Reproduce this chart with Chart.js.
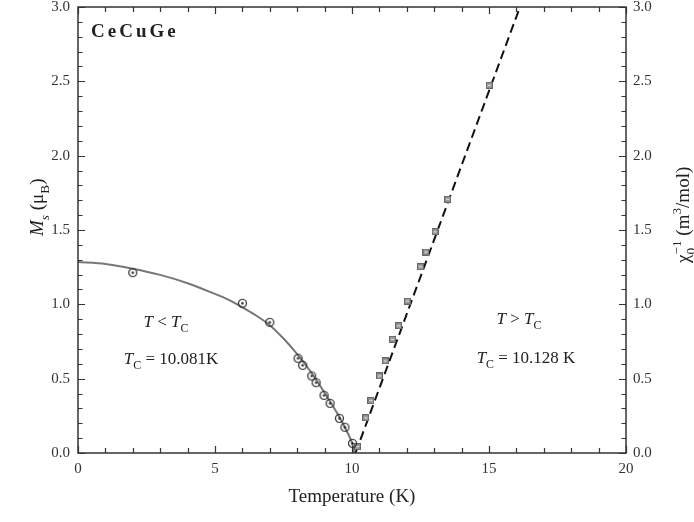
<!DOCTYPE html>
<html>
<head>
<meta charset="utf-8">
<script src="https://cdn.jsdelivr.net/npm/chart.js@4.4.0/dist/chart.umd.min.js"></script>
<style>
  html, body { margin: 0; padding: 0; background: #fff; }
  #wrap { width: 694px; height: 522px; }
</style>
</head>
<body>
<div id="wrap"><canvas id="grafico"></canvas></div>
<script>
// Datos
const msT   = [2.0, 6.0, 7.0, 8.03, 8.2, 8.53, 8.69, 8.98, 9.2, 9.54, 9.74, 10.02];
const msVal = [1.213, 1.007, 0.879, 0.637, 0.59, 0.518, 0.473, 0.388, 0.334, 0.233, 0.173, 0.065];

const chiT   = [10.2, 10.5, 10.69, 11.0, 11.22, 11.48, 11.7, 12.02, 12.5, 12.7, 13.03, 13.49, 15.01];
const chiVal = [0.043, 0.237, 0.352, 0.518, 0.619, 0.765, 0.856, 1.022, 1.253, 1.352, 1.488, 1.706, 2.473];

// curva de ajuste (T < Tc)
const fitT  = [0, 1, 2, 3, 4, 5, 5.5, 6, 6.5, 7, 7.5, 8, 8.5, 9, 9.5, 9.8, 10.0, 10.081];
const fitMs = [1.284, 1.272, 1.24, 1.198, 1.142, 1.07, 1.03, 0.98, 0.925, 0.86, 0.77, 0.665, 0.545, 0.405, 0.255, 0.15, 0.07, 0];

// recta Curie-Weiss (T > Tc)
const cwT   = [10.128, 16.13];
const cwVal = [0, 3.0];

const xTicks = [0, 5, 10, 15, 20];
const yTicks = [0, 0.5, 1.0, 1.5, 2.0, 2.5, 3.0];

const SERIF = '"Liberation Serif", "DejaVu Serif", serif';

// marcador circulo con punto
function marcadorCirculo() {
  const c = document.createElement('canvas');
  c.width = 11; c.height = 11;
  const g = c.getContext('2d');
  g.strokeStyle = '#2a2a2a';
  g.lineWidth = 1.2;
  g.beginPath(); g.arc(5.5, 5.5, 4, 0, Math.PI * 2); g.stroke();
  g.fillStyle = '#222';
  g.beginPath(); g.arc(5.5, 5.5, 1.2, 0, Math.PI * 2); g.fill();
  return c;
}
function marcadorCuadro() {
  const c = document.createElement('canvas');
  c.width = 7; c.height = 7;
  const g = c.getContext('2d');
  g.fillStyle = '#666';
  g.fillRect(0, 0, 7, 7);
  g.fillStyle = '#999';
  g.fillRect(1, 1, 5, 5);
  g.fillStyle = '#ddd';
  g.fillRect(2, 3, 3, 1);
  return c;
}

// texto con subindices / superindices
function textoRico(ctx, partes, size) {
  let x = 0;
  for (const p of partes) {
    if (p.stack) {
      let w = 0;
      for (const q of p.stack) {
        const s = size * 0.7;
        ctx.font = (q.italic ? 'italic ' : '') + s + 'px ' + SERIF;
        const dy = q.sub ? size * 0.32 : -size * 0.42;
        ctx.fillText(q.t, x, dy);
        w = Math.max(w, ctx.measureText(q.t).width);
      }
      x += w;
      continue;
    }
    const s = (p.sub || p.sup) ? size * 0.7 : size;
    ctx.font = (p.bold ? 'bold ' : '') + (p.italic ? 'italic ' : '') + s + 'px ' + SERIF;
    const dy = p.sub ? size * 0.32 : (p.sup ? -size * 0.42 : 0);
    ctx.fillText(p.t, x, dy);
    x += ctx.measureText(p.t).width;
  }
  return x;
}

const decoraciones = {
  id: 'decoraciones',
  afterDraw(chart) {
    const ctx = chart.ctx;
    const a = chart.chartArea;
    const sx = chart.scales.x, sy = chart.scales.y;
    ctx.save();

    // marco
    ctx.strokeStyle = '#333';
    ctx.lineWidth = 1.5;
    ctx.strokeRect(a.left, a.top, a.right - a.left, a.bottom - a.top);

    // marcas hacia dentro
    ctx.lineWidth = 1.2;
    ctx.beginPath();
    for (let v = 0; v <= 20; v++) {
      const px = Math.round(sx.getPixelForValue(v)) + 0.5;
      const len = v % 5 === 0 ? 7 : 5;
      ctx.moveTo(px, a.bottom); ctx.lineTo(px, a.bottom - len);
      ctx.moveTo(px, a.top); ctx.lineTo(px, a.top + len);
    }
    for (let i = 0; i <= 30; i++) {
      const py = Math.round(sy.getPixelForValue(i / 10)) + 0.5;
      const len = i % 5 === 0 ? 7 : 4.5;
      ctx.moveTo(a.left, py); ctx.lineTo(a.left + len, py);
      ctx.moveTo(a.right, py); ctx.lineTo(a.right - len, py);
    }
    ctx.stroke();

    ctx.fillStyle = '#222';
    ctx.textBaseline = 'alphabetic';
    ctx.textAlign = 'left';

    // CeCuGe
    ctx.font = 'bold 19px ' + SERIF;
    let cx = a.left + 13;
    for (const ch of 'CeCuGe') {
      ctx.fillText(ch, cx, 37);
      cx += ctx.measureText(ch).width + 3;
    }

    // anotaciones
    const dibuja = (partes, xMid, base, size) => {
      ctx.save();
      ctx.globalAlpha = 0;
      const w = textoRico(ctx, partes, size);
      ctx.globalAlpha = 1;
      ctx.translate(xMid - w / 2, base);
      textoRico(ctx, partes, size);
      ctx.restore();
    };
    dibuja([{t: 'T', italic: true}, {t: ' < '}, {t: 'T', italic: true}, {t: 'C', sub: true}], 166, 327, 17);
    dibuja([{t: 'T', italic: true}, {t: 'C', sub: true}, {t: ' = 10.081K'}], 171, 364, 17);
    dibuja([{t: 'T', italic: true}, {t: ' > '}, {t: 'T', italic: true}, {t: 'C', sub: true}], 519, 324, 17);
    dibuja([{t: 'T', italic: true}, {t: 'C', sub: true}, {t: ' = 10.128 K'}], 526, 363, 17);

    // titulo eje x
    dibuja([{t: 'Temperature (K)'}], (a.left + a.right) / 2, 502, 19);

    // titulo eje izquierdo
    ctx.save();
    ctx.translate(43, 236);
    ctx.rotate(-Math.PI / 2);
    textoRico(ctx, [{t: 'M', italic: true}, {t: 's', italic: true, sub: true}, {t: ' ('}, {t: 'μ'}, {t: 'B', sub: true}, {t: ')'}], 19);
    ctx.restore();

    // titulo eje derecho
    ctx.save();
    ctx.translate(689, 263);
    ctx.rotate(-Math.PI / 2);
    textoRico(ctx, [{t: 'χ'}, {stack: [{t: '0', sub: true}, {t: '−1', sup: true}]}, {t: ' (m'}, {t: '3', sup: true}, {t: '/mol)'}], 19);
    ctx.restore();

    ctx.restore();
  }
};

const aPuntos = (xs, ys) => xs.map((x, i) => ({x: x, y: ys[i]}));

const sinRelleno = s => { s.paddingTop = 0; s.paddingBottom = 0; s.paddingLeft = 0; s.paddingRight = 0; };

new Chart(document.getElementById('grafico'), {
  type: 'scatter',
  data: {
    datasets: [
      {
        label: 'Ms',
        data: aPuntos(msT, msVal),
        pointStyle: marcadorCirculo(),
        pointRadius: 5,
        showLine: false,
        yAxisID: 'y',
        order: 0
      },
      {
        label: 'chi-1',
        data: aPuntos(chiT, chiVal),
        pointStyle: marcadorCuadro(),
        pointRadius: 4,
        showLine: false,
        yAxisID: 'y2',
        order: 0
      },
      {
        label: 'ajuste',
        data: aPuntos(fitT, fitMs),
        showLine: true,
        borderColor: '#777',
        borderWidth: 2,
        pointRadius: 0,
        tension: 0.3,
        yAxisID: 'y',
        order: 1
      },
      {
        label: 'Curie-Weiss',
        data: aPuntos(cwT, cwVal),
        showLine: true,
        borderColor: '#111',
        borderWidth: 2,
        borderDash: [9, 5],
        pointRadius: 0,
        yAxisID: 'y2',
        order: 1
      }
    ]
  },
  options: {
    responsive: true,
    maintainAspectRatio: false,
    animation: false,
    layout: { padding: { top: 7, left: 0, right: 0, bottom: 0 } },
    plugins: {
      legend: { display: false },
      tooltip: { enabled: false }
    },
    scales: {
      x: {
        type: 'linear',
        min: 0, max: 20,
        afterBuildTicks: s => { s.ticks = xTicks.map(v => ({value: v})); },
        afterFit: s => { s.height = 69; sinRelleno(s); },
        grid: { display: false, drawTicks: false },
        border: { display: false },
        ticks: {
          padding: 7,
          color: '#333',
          font: { family: SERIF, size: 15 },
          callback: v => String(v)
        }
      },
      y: {
        type: 'linear',
        position: 'left',
        min: 0, max: 3,
        afterBuildTicks: s => { s.ticks = yTicks.map(v => ({value: v})); },
        afterFit: s => { s.width = 78; sinRelleno(s); },
        grid: { display: false, drawTicks: false },
        border: { display: false },
        ticks: {
          padding: 8,
          color: '#333',
          font: { family: SERIF, size: 15 },
          callback: v => Number(v).toFixed(1)
        }
      },
      y2: {
        type: 'linear',
        position: 'right',
        min: 0, max: 3,
        afterBuildTicks: s => { s.ticks = yTicks.map(v => ({value: v})); },
        afterFit: s => { s.width = 68; sinRelleno(s); },
        grid: { display: false, drawTicks: false },
        border: { display: false },
        ticks: {
          padding: 7,
          color: '#333',
          font: { family: SERIF, size: 15 },
          callback: v => Number(v).toFixed(1)
        }
      }
    }
  },
  plugins: [decoraciones]
});
</script>
</body>
</html>
